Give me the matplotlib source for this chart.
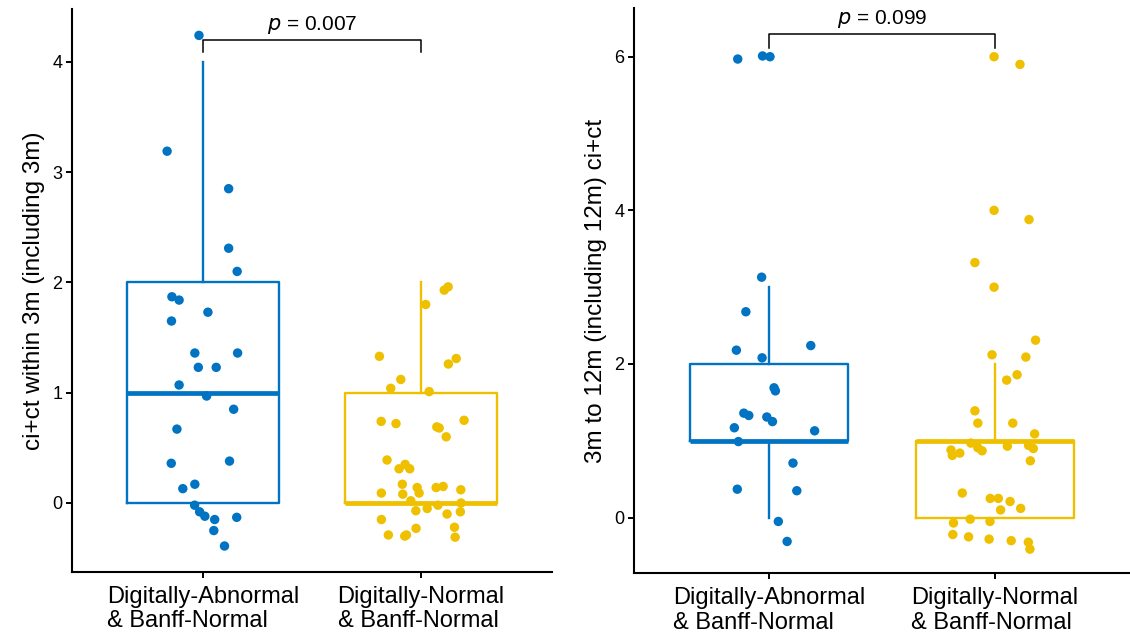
import numpy as np
import matplotlib
matplotlib.use("Agg")
import matplotlib.pyplot as plt

plt.rcParams['font.family'] = ['Liberation Sans', 'DejaVu Sans']

groups = ['Digitally-Abnormal\n& Banff-Normal', 'Digitally-Normal\n& Banff-Normal']
blue = '#0073C2'
yellow = '#EFC000'

# --- panel A: ci+ct within 3m (jittered points) ---
a_abn_y = [4.24, 3.19, 2.85, 2.31, 2.10, 1.87, 1.84, 1.73, 1.65, 1.36, 1.36, 1.23, 1.23, 1.07,
           0.97, 0.85, 0.67, 0.36, 0.38, 0.17, 0.13, -0.02, -0.08, -0.12, -0.15, -0.13, -0.25, -0.39]
a_abn_dx = [-0.018, -0.164, 0.118, 0.118, 0.157, -0.142, -0.109, 0.023, -0.144, -0.037, 0.159, -0.021, 0.061, -0.109,
            0.017, 0.141, -0.119, -0.145, 0.122, -0.037, -0.092, -0.038, -0.015, 0.009, 0.054, 0.155, 0.050, 0.099]
a_nor_y = [1.80, 1.93, 1.96, 1.33, 1.26, 1.31, 1.12, 1.04, 1.01, 0.74, 0.72, 0.69, 0.68, 0.75,
           0.60, 0.39, 0.35, 0.31, 0.31, 0.17, 0.14, 0.14, 0.15, 0.12, 0.09, 0.08, 0.09, 0.02,
           -0.02, 0.00, -0.07, -0.05, -0.10, -0.08, -0.15, -0.23, -0.22, -0.29, -0.30, -0.29, -0.31]
a_nor_dx = [0.021, 0.106, 0.124, -0.191, 0.125, 0.161, -0.093, -0.139, 0.037, -0.183, -0.115, 0.072, 0.083, 0.197,
            0.115, -0.156, -0.073, -0.101, -0.052, -0.086, -0.018, 0.069, 0.101, 0.182, -0.182, -0.084, -0.009, -0.047,
            0.077, 0.183, -0.024, 0.028, 0.119, 0.180, -0.182, -0.023, 0.153, -0.150, -0.075, -0.067, 0.156]
# box stats: (whislo, q1, med, q3, whishi)
a_box = [(0, 0, 1, 2, 4), (0, 0, 0, 1, 2)]
a_pval = '0.007'

# --- panel B: 3m to 12m ci+ct ---
b_abn_y = [5.97, 6.01, 6.00, 3.13, 2.68, 2.18, 2.08, 2.24, 1.69, 1.65, 1.36, 1.33, 1.31, 1.25,
           1.17, 1.13, 0.99, 0.71, 0.37, 0.35, -0.05, -0.31]
b_abn_dx = [-0.140, -0.030, 0.003, -0.034, -0.104, -0.146, -0.032, 0.184, 0.021, 0.027, -0.113, -0.091, -0.011, 0.014,
            -0.155, 0.201, -0.137, 0.105, -0.142, 0.122, 0.040, 0.079]
b_nor_y = [6.00, 5.90, 4.00, 3.88, 3.32, 3.00, 2.31, 2.12, 2.09, 1.86, 1.79, 1.39, 1.23, 1.23,
           1.09, 0.97, 0.91, 0.87, 0.93, 0.94, 0.90, 0.88, 0.81, 0.84, 0.74, 0.32, 0.25, 0.25,
           0.21, 0.10, 0.12, -0.07, -0.02, -0.05, -0.22, -0.25, -0.28, -0.30, -0.32, -0.41]
b_nor_dx = [-0.003, 0.112, -0.003, 0.152, -0.088, -0.003, 0.181, -0.012, 0.138, 0.099, 0.053, -0.088, -0.075, 0.080,
            0.177, -0.106, -0.075, -0.056, 0.056, 0.150, 0.171, -0.194, -0.188, -0.155, 0.158, -0.144, -0.020, 0.016,
            0.068, 0.026, 0.115, -0.183, -0.109, -0.021, -0.186, -0.116, -0.025, 0.073, 0.149, 0.156]
b_box = [(0, 1, 1, 2, 3), (0, 0, 1, 1, 2)]
b_pval = '0.099'

fig = plt.figure(figsize=(11.3, 6.41), dpi=100)
ax1 = fig.add_axes([0.0637, 0.1076, 0.4248, 0.8783])
ax2 = fig.add_axes([0.5611, 0.1056, 0.4389, 0.8814])


def draw_panel(ax, box, pts, ylim, yticks, ylabel, pval, bracket):
    for i, (st, col) in enumerate(zip(box, [blue, yellow])):
        stats = [dict(whislo=st[0], q1=st[1], med=st[2], q3=st[3], whishi=st[4], fliers=[])]
        ax.bxp(stats, positions=[i + 1], widths=0.7, showcaps=False, patch_artist=False,
               boxprops=dict(color=col, linewidth=1.7),
               whiskerprops=dict(color=col, linewidth=1.7),
               medianprops=dict(color=col, linewidth=3.4, solid_capstyle='butt'))
    for i, ((ys, dxs), col) in enumerate(zip(pts, [blue, yellow])):
        ax.scatter(np.array(dxs) + i + 1, ys, s=46, color=col, edgecolors='none', zorder=3)

    # significance bracket
    y_top, y_tip = bracket
    ax.plot([1, 1, 2, 2], [y_tip, y_top, y_top, y_tip], color='black', lw=1.1, clip_on=False)
    ax.text(1.5, y_top + (ylim[1] - ylim[0]) * 0.006, r'$p$ = ' + pval, ha='center', va='bottom',
            fontsize=15)

    ax.set_xlim(0.4, 2.6)
    ax.set_ylim(*ylim)
    ax.set_yticks(yticks)
    ax.set_xticks([1, 2])
    ax.set_xticklabels(groups, fontsize=17, linespacing=1.15)
    for lbl in ax.get_xticklabels():
        lbl.set_multialignment('left')
    ax.tick_params(axis='y', labelsize=13, length=4, width=1.4, pad=3)
    ax.tick_params(axis='x', length=4, width=1.4, pad=6)
    ax.set_ylabel(ylabel, fontsize=17.5, labelpad=5)
    ax.set_xlabel('')
    for side in ['top', 'right']:
        ax.spines[side].set_visible(False)
    for side in ['left', 'bottom']:
        ax.spines[side].set_linewidth(1.5)


draw_panel(ax1, a_box, [(a_abn_y, a_abn_dx), (a_nor_y, a_nor_dx)], (-0.626, 4.479),
           [0, 1, 2, 3, 4], 'ci+ct within 3m (including 3m)', a_pval, (4.20, 4.09))
draw_panel(ax2, b_box, [(b_abn_y, b_abn_dx), (b_nor_y, b_nor_dx)], (-0.725, 6.63),
           [0, 2, 4, 6], '3m to 12m (including 12m) ci+ct', b_pval, (6.30, 6.12))

fig.savefig('out.png', dpi=100)
